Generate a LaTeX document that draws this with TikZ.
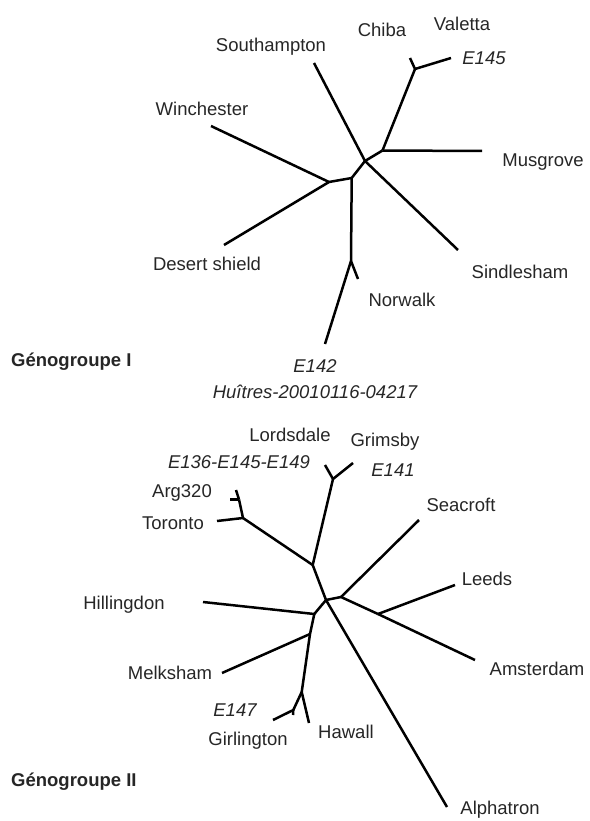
\documentclass[tikz,border=0pt]{standalone}
\usepackage{fontspec}
\setmainfont{Liberation Sans}
\usepackage{tikz}
\tikzstyle{branch} = [line width=2.5pt, line join=round]
\tikzstyle{strain} = [inner sep=0pt, text=black!85, font=\fontsize{18.5}{20}\selectfont]
\tikzstyle{sample} = [inner sep=0pt, text=black!85, font=\fontsize{18.5}{20}\selectfont\itshape]
\tikzstyle{group} = [inner sep=0pt, anchor=west, text=black!85, font=\fontsize{18.5}{20}\selectfont\bfseries]

\begin{document}
\begin{tikzpicture}[x=1pt, y=-1pt]
\useasboundingbox (0,0) rectangle (589,821);

% Genogroupe I
\coordinate (gIc) at (365,161);
\coordinate (gIa) at (382.5,150.5);
\coordinate (gIb) at (415,69);
\coordinate (gId) at (351.7,178);
\coordinate (gIe) at (329,182);
\coordinate (gIf) at (351,261);
\coordinate (sou) at (314,63);
\coordinate (chi) at (410,58);
\coordinate (e145) at (451,58);
\coordinate (mus) at (482,151);
\coordinate (sin) at (458,250);
\coordinate (win) at (211,126);
\coordinate (des) at (224,245);
\coordinate (nor) at (358,279);
\coordinate (e142) at (325,344);

\draw [branch] (gIc) -- (sou);
\draw [branch] (gIc) -- (sin);
\draw [branch] (gIc) -- (gIa);
\draw [branch] (gIa) -- (mus);
\draw [branch] (gIa) -- (gIb);
\draw [branch] (gIb) -- (chi);
\draw [branch] (gIb) -- (e145);
\draw [branch] (gIc) -- (gId);
\draw [branch] (gId) -- (gIe);
\draw [branch] (gIe) -- (win);
\draw [branch] (gIe) -- (des);
\draw [branch] (gId) -- (gIf);
\draw [branch] (gIf) -- (nor);
\draw [branch] (gIf) -- (e142);

\node (southampton) [strain] at (271,47) {Southampton};
\node (chiba) [strain] at (382,30) {Chiba};
\node (valetta) [strain] at (462,24) {Valetta};
\node (e145lab) [sample] at (484,58) {E145};
\node (winchester) [strain] at (202,109) {Winchester};
\node (musgrove) [strain] at (543,162) {Musgrove};
\node (desert) [strain] at (207,264) {Desert shield};
\node (sindlesham) [strain] at (520,272) {Sindlesham};
\node (norwalk) [strain] at (402,300) {Norwalk};
\node (e142lab) [sample] at (315,366) {E142};
\node (huitres) [sample] at (315,392) {Huîtres-20010116-04217};
\node (groupI) [group] at (11,362) {Génogroupe I};

% Genogroupe II
\coordinate (gIIc) at (326,600);
\coordinate (gIIa) at (312.7,565);
\coordinate (gIIb) at (333,479);
\coordinate (gIId) at (243,518);
\coordinate (gIIe) at (239,499.5);
\coordinate (gIIf) at (341,597);
\coordinate (gIIg) at (378,614);
\coordinate (gIIh) at (314.3,614);
\coordinate (gIIi) at (310,634);
\coordinate (gIIj) at (301.7,692);
\coordinate (gIIk) at (293.3,710);
\coordinate (lor) at (325,465);
\coordinate (gri) at (353,463);
\coordinate (tor) at (217,521);
\coordinate (arg) at (236,490);
\coordinate (argt) at (230,499.5);
\coordinate (sea) at (419,520);
\coordinate (lee) at (455,585);
\coordinate (ams) at (475,660);
\coordinate (alp) at (447,807);
\coordinate (hil) at (203,602);
\coordinate (mel) at (222,673);
\coordinate (haw) at (309,723);
\coordinate (e147) at (273,720);
\coordinate (gir) at (293,715);

\draw [branch] (gIIc) -- (gIIa);
\draw [branch] (gIIa) -- (gIIb);
\draw [branch] (gIIb) -- (lor);
\draw [branch] (gIIb) -- (gri);
\draw [branch] (gIIa) -- (gIId);
\draw [branch] (gIId) -- (tor);
\draw [branch] (gIId) -- (gIIe);
\draw [branch] (gIIe) -- (arg);
\draw [branch] (gIIe) -- (argt);
\draw [branch] (gIIc) -- (gIIf);
\draw [branch] (gIIf) -- (sea);
\draw [branch] (gIIf) -- (gIIg);
\draw [branch] (gIIg) -- (lee);
\draw [branch] (gIIg) -- (ams);
\draw [branch] (gIIc) -- (alp);
\draw [branch] (gIIc) -- (gIIh);
\draw [branch] (gIIh) -- (hil);
\draw [branch] (gIIh) -- (gIIi);
\draw [branch] (gIIi) -- (mel);
\draw [branch] (gIIi) -- (gIIj);
\draw [branch] (gIIj) -- (haw);
\draw [branch] (gIIj) -- (gIIk);
\draw [branch] (gIIk) -- (e147);
\draw [branch] (gIIk) -- (gir);

\node (lordsdale) [strain] at (290,435) {Lordsdale};
\node (e136lab) [sample] at (239,462) {E136-E145-E149};
\node (grimsby) [strain] at (385,442) {Grimsby};
\node (e141lab) [sample] at (393,470) {E141};
\node (arg320) [strain] at (182,493) {Arg320};
\node (toronto) [strain] at (173,523) {Toronto};
\node (seacroft) [strain] at (461,505) {Seacroft};
\node (leeds) [strain] at (487,579) {Leeds};
\node (hillingdon) [strain] at (124,605) {Hillingdon};
\node (amsterdam) [strain] at (537,669) {Amsterdam};
\node (melksham) [strain] at (170,673) {Melksham};
\node (e147lab) [sample] at (235,710) {E147};
\node (girlington) [strain] at (248,741) {Girlington};
\node (hawall) [strain] at (346,732) {Hawall};
\node (groupII) [group] at (11,782) {Génogroupe II};
\node (alphatron) [strain] at (500,810) {Alphatron};

\end{tikzpicture}
\end{document}
